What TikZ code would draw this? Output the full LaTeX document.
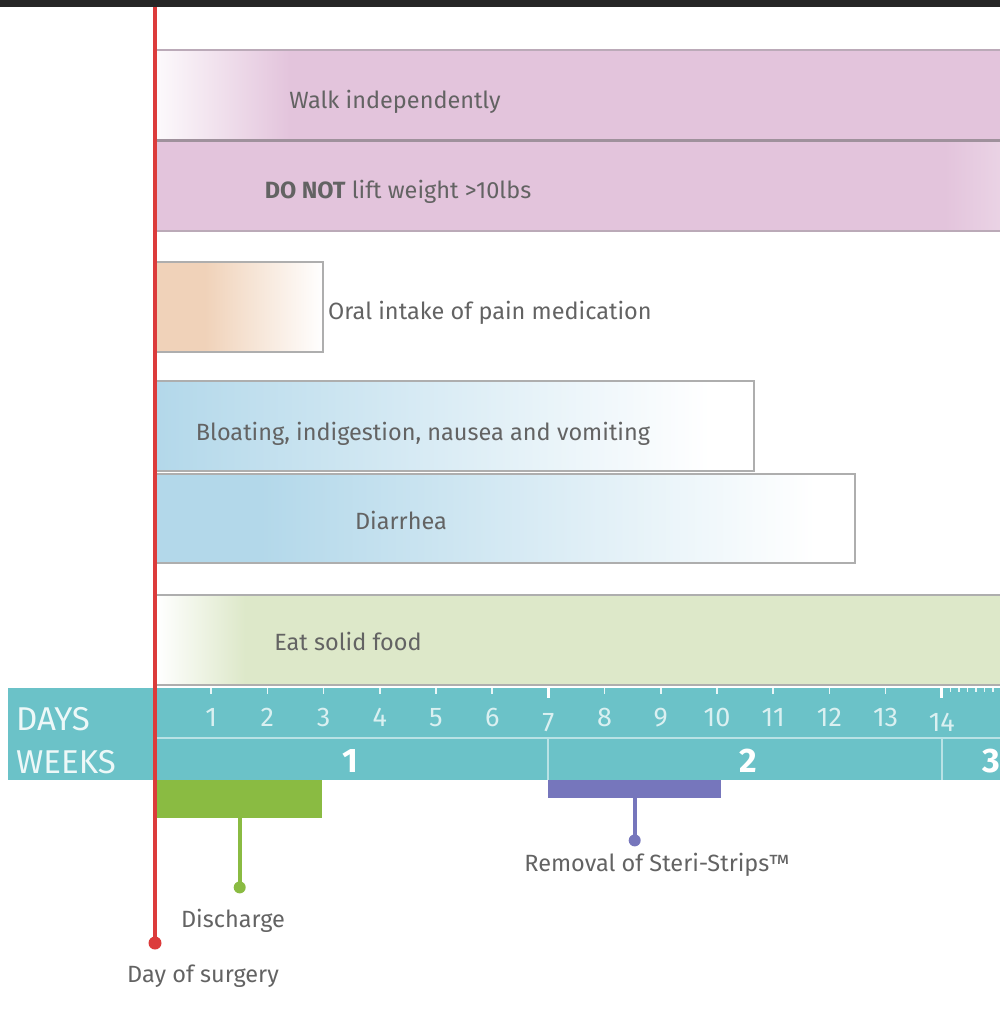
\documentclass[tikz,border=0pt]{standalone}
\usepackage{fontspec}
\setmainfont{Fira Sans}
\definecolor{topbar}{HTML}{262626}
\definecolor{surgeryred}{HTML}{DC3B3B}
\definecolor{walkpink}{HTML}{E3C4DC}
\definecolor{pinkedge}{HTML}{BBAAB8}
\definecolor{painpeach}{HTML}{F0D2B9}
\definecolor{stomachblue}{HTML}{B3D8EA}
\definecolor{foodgreen}{HTML}{DDE8C9}
\definecolor{boxedge}{HTML}{AEAEAE}
\definecolor{scaleteal}{HTML}{6BC2C8}
\definecolor{scaleline}{HTML}{B8E2E5}
\definecolor{dischargegreen}{HTML}{8ABB42}
\definecolor{stripspurple}{HTML}{7676BC}
\definecolor{labelgray}{HTML}{636363}

\begin{document}
\begin{tikzpicture}[x=1pt, y=-1pt,
    lbl/.style={text=labelgray, font=\fontsize{23.5}{26}\selectfont, inner sep=0, anchor=base},
    daynum/.style={text=white!75!scaleteal, font=\fontsize{27}{30}\selectfont, inner sep=0, anchor=base},
    weeknum/.style={text=white, font=\fontsize{34}{38}\selectfont\bfseries, inner sep=0, anchor=base},
    scalehead/.style={text=white!88!scaleteal, font=\fontsize{33}{36}\selectfont, inner sep=0, anchor=base west},
    edge/.style={boxedge, line width=2pt},
    pin/.style={line width=4pt},
    markbar/.style={inner sep=0, anchor=north west}
]
    \useasboundingbox (0,0) rectangle (1000,1009);
    \fill[topbar] (0,0) rectangle (1000,7);

    % pink bars
    \fill[walkpink] (157,50) rectangle (1000,231);
    \shade[left color=white!90!walkpink, right color=walkpink] (157,50) rectangle (290,140);
    \shade[left color=walkpink, right color=walkpink!75!white] (945,141) rectangle (1000,231);
    \draw[pinkedge, line width=2pt] (157,50) -- (1000,50);
    \draw[pinkedge!85!black, line width=3pt] (157,140) -- (1000,140);
    \draw[pinkedge, line width=2pt] (157,231) -- (1000,231);
    \node[lbl] (walk) at (395,108) {Walk independently};
    \node[lbl] (lift) at (398,198) {\textbf{DO NOT} lift weight >10lbs};

    % pain medication
    \fill[painpeach] (157,262) rectangle (205,352);
    \shade[left color=painpeach, right color=white] (205,262) rectangle (323,352);
    \draw[edge] (157,262) -- (323,262) -- (323,352) -- (157,352);
    \node[lbl, anchor=base west] (pain) at (328,319) {Oral intake of pain medication};

    % stomach
    \shade[left color=stomachblue, right color=white] (157,381) rectangle (710,471);
    \fill[white] (710,381) rectangle (754,471);
    \fill[stomachblue] (157,474) rectangle (260,563);
    \shade[left color=stomachblue, right color=white] (260,474) rectangle (815,563);
    \fill[white] (815,474) rectangle (855,563);
    \draw[edge] (157,381) -- (754,381) -- (754,471) -- (157,471);
    \draw[edge] (157,474) -- (855,474) -- (855,563) -- (157,563);
    \node[lbl] (bloat) at (423,440) {Bloating, indigestion, nausea and vomiting};
    \node[lbl] (diarrhea) at (401,529) {Diarrhea};

    % food
    \fill[foodgreen] (157,595) rectangle (1000,685);
    \shade[left color=white, right color=foodgreen] (157,595) rectangle (245,685);
    \draw[edge] (157,595) -- (1000,595);
    \draw[edge] (157,685) -- (1000,685);
    \node[lbl] (food) at (348,650) {Eat solid food};

    % time scale
    \fill[scaleteal] (8,688) rectangle (1000,780);
    \draw[scaleline, line width=1.5pt] (157,738) -- (1000,738);
    \draw[scaleline, line width=1.5pt] (548,738) -- (548,780);
    \draw[scaleline, line width=1.5pt] (942,738) -- (942,780);
    \node[scalehead] (days) at (16,730) {DAYS};
    \node[scalehead] (weeks) at (16,773) {WEEKS};
    \foreach \d in {1,2,3,4,5,6,8,9,10,11,12,13} {
        \draw[white!85!scaleteal, line width=1.5pt] ({155+56.2*\d},688) -- ++(0,6);
        \node[daynum] (day\d) at ({155+56.2*\d},726) {\d};
    }
    \foreach \d in {7,14} {
        \draw[white, line width=3pt] ({155+56.2*\d},688) -- ++(0,10);
        \node[daynum] (day\d) at ({155+56.2*\d},731) {\d};
    }
    \foreach \k in {1,...,6}
        \draw[white!85!scaleteal, line width=1.5pt] ({942+8.5*\k},688) -- ++(0,4);
    \node[weeknum] (week1) at (350,772) {1};
    \node[weeknum] (week2) at (748,772) {2};
    \node[weeknum] (week3) at (991,772) {3};

    % discharge
    \node[markbar, fill=dischargegreen, minimum width=165, minimum height=38] (dischbar) at (157,780) {};
    \draw[dischargegreen, pin] (dischbar.south) -- ++(0,69) coordinate (dischdot);
    \fill[dischargegreen] (dischdot) circle (6);
    \node[lbl] (discharge) at (233,927) {Discharge};

    % steri-strips
    \node[markbar, fill=stripspurple, minimum width=173, minimum height=18] (stripbar) at (548,780) {};
    \draw[stripspurple, pin] (stripbar.south) -- ++(0,42) coordinate (stripdot);
    \fill[stripspurple] (stripdot) circle (6);
    \node[lbl] (strips) at (657,871) {Removal of Steri-Strips™};

    % day of surgery
    \coordinate (surgtop) at (155,7);
    \coordinate (surgery) at (155,943);
    \draw[surgeryred, line width=3.5pt] (surgtop) -- (surgery);
    \fill[surgeryred] (surgery) circle (6.5);
    \node[lbl] (surglabel) at (203,982) {Day of surgery};
\end{tikzpicture}
\end{document}
